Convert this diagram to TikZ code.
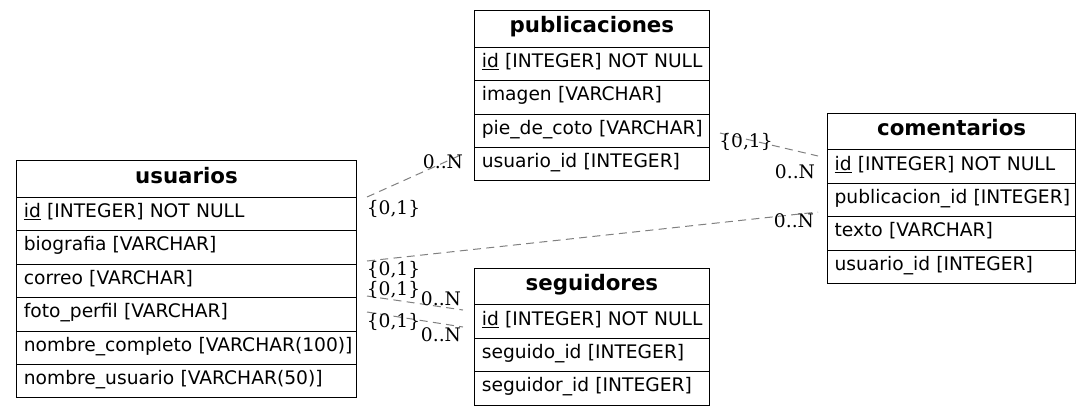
\documentclass[tikz,border=0pt]{standalone}
\usepackage{fontspec}
\setmainfont{DejaVu Sans}
\newfontfamily\lblfont{DejaVu Serif}
\definecolor{edgegray}{HTML}{808080}
\tikzset{
  cell/.style={draw, line width=0.75pt, anchor=north west, outer sep=0pt,
    inner ysep=0pt, inner xsep=0pt, align=left,
    text height=9.5pt, text depth=4.4pt, minimum height=25.05pt,
    font=\fontsize{14}{16}\selectfont},
  headcell/.style={cell, align=center, minimum height=27.5pt,
    text height=10.5pt, text depth=4.6pt,
    font=\fontsize{16}{18}\selectfont\bfseries},
  rel/.style={draw=edgegray, dash pattern=on 6pt off 4pt, line width=0.75pt},
  card/.style={font=\lblfont\fontsize{14}{16}\selectfont, anchor=base,
    inner sep=0pt, text=black},
}
\newcommand\ctext[1]{\mbox{\hspace*{5.5pt}#1}}
\begin{document}
\begin{tikzpicture}[x=0.75pt,y=-0.75pt]
\useasboundingbox (0,0) rectangle (1092,415);
% usuarios
\node[headcell, text width=255pt] (u0) at (16.5,160.8) {usuarios};
\node[cell, text width=255pt] (u1) at (u0.south west) {\ctext{\underline{id} [INTEGER] NOT NULL}};
\node[cell, text width=255pt] (u2) at (u1.south west) {\ctext{biografia [VARCHAR]}};
\node[cell, text width=255pt] (u3) at (u2.south west) {\ctext{correo [VARCHAR]}};
\node[cell, text width=255pt] (u4) at (u3.south west) {\ctext{foto\_perfil [VARCHAR]}};
\node[cell, text width=255pt] (u5) at (u4.south west) {\ctext{nombre\_completo [VARCHAR(100)]}};
\node[cell, text width=255pt] (u6) at (u5.south west) {\ctext{nombre\_usuario [VARCHAR(50)]}};
% publicaciones
\node[headcell, text width=176.1pt] (p0) at (474.5,10.7) {publicaciones};
\node[cell, text width=176.1pt] (p1) at (p0.south west) {\ctext{\underline{id} [INTEGER] NOT NULL}};
\node[cell, text width=176.1pt] (p2) at (p1.south west) {\ctext{imagen [VARCHAR]}};
\node[cell, text width=176.1pt] (p3) at (p2.south west) {\ctext{pie\_de\_coto [VARCHAR]}};
\node[cell, text width=176.1pt] (p4) at (p3.south west) {\ctext{usuario\_id [INTEGER]}};
% comentarios
\node[headcell, text width=186.5pt] (c0) at (827.3,113.3) {comentarios};
\node[cell, text width=186.5pt] (c1) at (c0.south west) {\ctext{\underline{id} [INTEGER] NOT NULL}};
\node[cell, text width=186.5pt] (c2) at (c1.south west) {\ctext{publicacion\_id [INTEGER]}};
\node[cell, text width=186.5pt] (c3) at (c2.south west) {\ctext{texto [VARCHAR]}};
\node[cell, text width=186.5pt] (c4) at (c3.south west) {\ctext{usuario\_id [INTEGER]}};
% seguidores
\node[headcell, text width=176.1pt] (s0) at (474.5,268.3) {seguidores};
\node[cell, text width=176.1pt] (s1) at (s0.south west) {\ctext{\underline{id} [INTEGER] NOT NULL}};
\node[cell, text width=176.1pt] (s2) at (s1.south west) {\ctext{seguido\_id [INTEGER]}};
\node[cell, text width=176.1pt] (s3) at (s2.south west) {\ctext{seguidor\_id [INTEGER]}};
% connector end points
\coordinate (e1a) at (367,197);
\coordinate (e1b) at (463,154);
\coordinate (e2a) at (367,261);
\coordinate (e2b) at (818,212);
\coordinate (e3a) at (367,296);
\coordinate (e3b) at (463,310);
\coordinate (e4a) at (367,312);
\coordinate (e4b) at (463,327);
\coordinate (e5a) at (720,133);
\coordinate (e5b) at (818,156);
\draw[rel] (e1a) -- (e1b);
\draw[rel] (e2a) -- (e2b);
\draw[rel] (e3a) -- (e3b);
\draw[rel] (e4a) -- (e4b);
\draw[rel] (e5a) -- (e5b);
% cardinalities
\node[card] (l1h) at (443,168) {0..N};
\node[card] (l1t) at (393.5,214) {\{0,1\}};
\node[card] (l2t) at (393.5,275) {\{0,1\}};
\node[card] (l2h) at (794,227) {0..N};
\node[card] (l3t) at (393.5,295) {\{0,1\}};
\node[card] (l3h) at (441,305) {0..N};
\node[card] (l4t) at (393.5,327) {\{0,1\}};
\node[card] (l4h) at (441,341) {0..N};
\node[card] (l5t) at (746,147) {\{0,1\}};
\node[card] (l5h) at (795,178) {0..N};
\end{tikzpicture}
\end{document}
